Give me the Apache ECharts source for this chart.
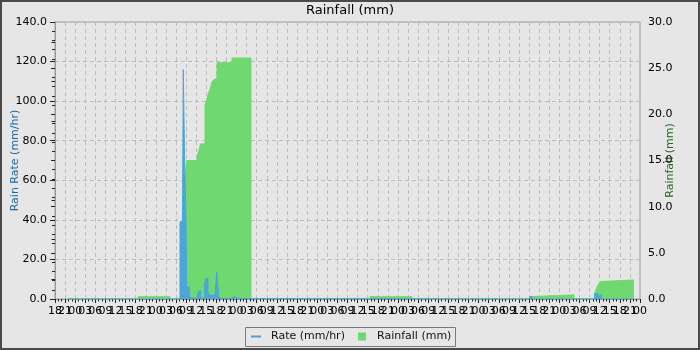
<!DOCTYPE html>
<html>
<head>
<meta charset="utf-8">
<script src="https://cdn.jsdelivr.net/npm/echarts@6/dist/echarts.min.js"></script>
<style>
html,body{margin:0;padding:0;background:#e6e6e6;}
#chart{width:700px;height:350px;}
</style>
</head>
<body>
<div id="chart"></div>
<script>
// x values are hours since the first tick (18:00); one label every 3 hours
var hourLabels = ['18','21','00','03','06','09','12','15',
  '18','21','00','03','06','09','12','15',
  '18','21','00','03','06','09','12','15',
  '18','21','00','03','06','09','12','15',
  '18','21','00','03','06','09','12','15',
  '18','21','00','03','06','09','12','15',
  '18','21','00','03','06','09','12','15',
  '18','21','00'];

// Cumulative rainfall (mm), step values starting at each hour
var rainHours  = [3.87, 24.69, 34.21, 37.48, 38.81, 39.17, 42.24, 42.83, 43.28, 44.62, 45.06, 45.36, 45.66, 45.95, 46.25, 46.55, 46.79, 47.08, 47.59, 48.19, 52.65, 58.30, 93.69, 106.19, 141.13, 141.58, 154.37, 160.47, 160.92, 161.36, 161.81, 162.25, 162.70, 172.2];
var rainTotals = [0,    0.25,  0,     1.8,   13.8,  15.0,  15.4,  16.1,  16.8,  21.0,  21.5,  21.9,  22.3,  22.6,  22.9,  23.3,  23.6,  23.8,  24.0,  25.6,  26.1,  0,     0.25,  0,      0.25,   0.45,   0,      0.6,    1.05,   1.4,    1.65,   1.9,    2.06,   2.06];

// Rain rate (mm/hr), step values starting at each hour
var rateHours  = [3.87, 37.18, 37.78, 38.16, 38.57, 38.87, 39.17, 39.95, 40.36, 42.33, 42.74, 43.34, 44.53, 44.91, 45.51, 45.90, 47.08, 47.68, 48.10, 48.69, 49.08, 52.26, 53.45, 54.5, 141.13, 141.9, 160.47, 161.06, 161.66, 161.96, 162.55, 172.2];
var rateValues = [0,    39,    1,     116,   67,    49,    6.1,   2.7,   0.5,   2.2,   4.0,   0.5,   8.2,   10.3,  3.5,   1.9,   2.4,   3.9,   13.6,  1.9,   0.3,   1.2,   0.3,   0,    1.2,    0,     2.9,    2.4,    1.2,    2.1,    0,      0];

function zip(a, b) { return a.map(function (v, i) { return [v, b[i]]; }); }

// label positions on the hour axis (every 3 h), split in two sets so the
// tightly packed labels are all kept
var evenLabelPos = [], oddLabelPos = [];
hourLabels.forEach(function (l, i) { (i % 2 === 0 ? evenLabelPos : oddLabelPos).push(i * 3); });
function hourFmt(v) { return hourLabels[Math.round(v / 3)]; }

var BLUE = '#4ba6d9';
var GREEN = '#70d870';
var FONT = 'DejaVu Sans';
var labelStyle = {fontSize: 11, color: '#000', margin: 7, hideOverlap: false,
  showMinLabel: true, showMaxLabel: true, formatter: hourFmt};

var chart = echarts.init(document.getElementById('chart'), null, {renderer: 'canvas'});
chart.setOption({
  animation: false,
  backgroundColor: '#e6e6e6',
  textStyle: {fontFamily: FONT},
  title: {
    text: 'Rainfall (mm)', left: 'center', top: 4, padding: 0,
    textStyle: {fontSize: 13, fontWeight: 'normal', color: '#000', fontFamily: FONT}
  },
  grid: {
    left: 55, top: 22, right: 60, bottom: 51,
    show: true, backgroundColor: '#e6e6e6', borderColor: '#9a9a9a', borderWidth: 1,
    containLabel: false, outerBoundsMode: 'none'
  },
  legend: [
    {
      data: [{name: 'Rate (mm/hr)', icon: 'rect', itemStyle: {color: BLUE}}],
      left: 251, top: 331, padding: 0, itemWidth: 10, itemHeight: 2, selectedMode: false,
      textStyle: {fontSize: 11, color: '#111', padding: [0, 0, 0, 5]}
    },
    {
      data: [{name: 'Rainfall (mm)', icon: 'rect', itemStyle: {color: GREEN}}],
      left: 358, top: 331, padding: 0, itemWidth: 8, itemHeight: 8, selectedMode: false,
      textStyle: {fontSize: 11, color: '#111', padding: [0, 0, 0, 6]}
    }
  ],
  graphic: [
    {type: 'rect', shape: {x: 245.5, y: 327.5, width: 210, height: 19}, style: {fill: 'none', stroke: '#7a7a7a', lineWidth: 1}, z: -1},
    {type: 'rect', shape: {x: 1, y: 1, width: 698, height: 348}, style: {fill: 'none', stroke: '#4a4a4a', lineWidth: 2}, z: 100}
  ],
  xAxis: [
    {
      type: 'value', min: 0, max: 174, interval: 3, position: 'bottom',
      axisLine: {show: true, lineStyle: {color: '#9a9a9a'}},
      axisTick: {show: true, length: 4, lineStyle: {color: '#222'}},
      minorTick: {show: true, splitNumber: 3, length: 2.5, lineStyle: {color: '#222'}},
      axisLabel: Object.assign({customValues: evenLabelPos}, labelStyle),
      splitLine: {show: true, lineStyle: {color: '#bdbdbd', type: [4, 3], width: 1}}
    },
    {
      type: 'value', min: 0, max: 174, interval: 3, position: 'bottom', offset: 0,
      axisLine: {show: false}, axisTick: {show: false}, minorTick: {show: false},
      splitLine: {show: false},
      axisLabel: Object.assign({customValues: oddLabelPos}, labelStyle)
    }
  ],
  yAxis: [
    {
      type: 'value', min: 0, max: 140, interval: 20, position: 'left',
      name: 'Rain Rate (mm/hr)', nameLocation: 'middle', nameGap: 34, nameRotate: 90,
      nameMoveOverlap: false,
      nameTextStyle: {color: '#1f6aa5', fontSize: 11},
      axisLine: {show: true, lineStyle: {color: '#9a9a9a'}},
      axisTick: {show: true, length: 5, lineStyle: {color: '#222'}},
      minorTick: {show: true, splitNumber: 2, length: 3.5, lineStyle: {color: '#222'}},
      axisLabel: {fontSize: 11, color: '#000', margin: 8, formatter: function (v) { return v.toFixed(1); }},
      splitLine: {show: true, lineStyle: {color: '#bdbdbd', type: [4, 3], width: 1}}
    },
    {
      type: 'value', min: 0, max: 30, interval: 5, position: 'right',
      name: 'Rainfall (mm)', nameLocation: 'middle', nameGap: 25, nameRotate: 90,
      nameMoveOverlap: false,
      nameTextStyle: {color: '#1e6b1e', fontSize: 11},
      axisLine: {show: true, lineStyle: {color: '#9a9a9a'}},
      axisTick: {show: true, inside: true, length: 4, lineStyle: {color: '#222'}},
      minorTick: {show: true, splitNumber: 5, length: 3, lineStyle: {color: '#222'}},
      axisLabel: {fontSize: 11, color: '#000', margin: 8, formatter: function (v) { return v.toFixed(1); }},
      splitLine: {show: false}
    }
  ],
  series: [
    {
      name: 'Rainfall (mm)', type: 'line', xAxisIndex: 0, yAxisIndex: 1, step: 'end',
      data: zip(rainHours, rainTotals), symbol: 'none', z: 2,
      lineStyle: {color: GREEN, width: 1}, itemStyle: {color: GREEN},
      areaStyle: {color: GREEN, opacity: 1}
    },
    {
      name: 'Rate (mm/hr)', type: 'line', xAxisIndex: 0, yAxisIndex: 0, step: 'end',
      data: zip(rateHours, rateValues), symbol: 'none', z: 3,
      lineStyle: {color: BLUE, width: 1}, itemStyle: {color: BLUE},
      areaStyle: {color: BLUE, opacity: 1}
    }
  ]
});
</script>
</body>
</html>
